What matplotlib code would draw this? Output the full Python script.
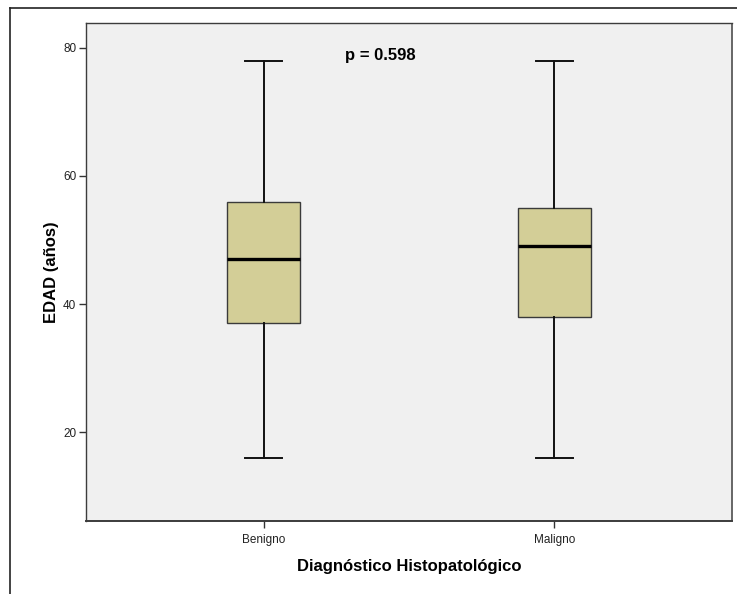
import matplotlib.pyplot as plt
from matplotlib.lines import Line2D

# data
groups = ['Benigno', 'Maligno']
whislo = [16, 16]
q1 = [37, 38]
med = [47, 49]
q3 = [56, 55]
whishi = [78, 78]
p_text = 'p = 0.598'

plt.rcParams['font.family'] = ['Liberation Sans', 'DejaVu Sans']

fig = plt.figure(figsize=(7.37, 5.94), dpi=100)
ax = fig.add_axes([86/737, 1 - 521/594, 646/737, 498/594])
ax.set_facecolor('#f0f0f0')

stats = []
for i in range(len(groups)):
    stats.append(dict(label=groups[i], whislo=whislo[i], q1=q1[i],
                      med=med[i], q3=q3[i], whishi=whishi[i]))

ax.bxp(stats, positions=[1, 2], widths=0.25, capwidths=0.125,
       showfliers=False, patch_artist=True,
       boxprops=dict(facecolor='#d3ce97', edgecolor='#3a3a3a', lw=1),
       medianprops=dict(color='black', lw=2.4),
       whiskerprops=dict(color='#111111', lw=1.4),
       capprops=dict(color='#111111', lw=1.4))

ax.set_xlim(0.39, 2.61)
ax.set_ylim(6.1, 83.9)
ax.set_yticks([20, 40, 60, 80])
ax.tick_params(axis='both', length=5, width=1, color='#333333',
               labelsize=8.5, labelcolor='#222222', pad=2)
ax.tick_params(axis='x', pad=4)

for s in ax.spines.values():
    s.set_color('#3c3c3c')
    s.set_linewidth(1)
ax.spines['right'].set_color('#666666')
ax.spines['right'].set_linewidth(1.4)
ax.spines['right'].set_capstyle('butt')
ax.spines['bottom'].set_linewidth(1.4)

ax.set_xlabel('Diagnóstico Histopatológico', fontsize=12, fontweight='bold', labelpad=10)
ax.set_ylabel('EDAD (años)', fontsize=12, fontweight='bold', labelpad=3)

ax.text(1.4, 78.9, p_text, ha='center', va='center', fontsize=12, fontweight='bold')

# outer frame of the screenshot (top and left edges)
fig.add_artist(Line2D([10/737, 1], [1 - 7.7/594, 1 - 7.7/594], color='#222222', lw=1.2))
fig.add_artist(Line2D([10/737, 10/737], [0, 1 - 7.7/594], color='#222222', lw=1.2))

fig.savefig('out.png', dpi=100)
